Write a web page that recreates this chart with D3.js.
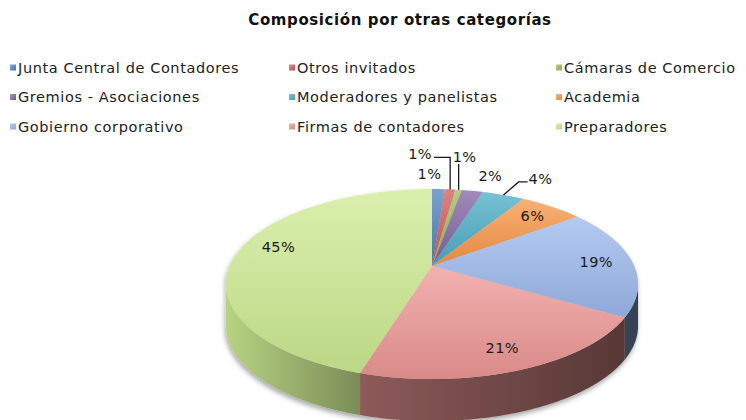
<!DOCTYPE html>
<html>
<head>
<meta charset="utf-8">
<script src="https://cdn.jsdelivr.net/npm/d3@7"></script>
<style>
  body { margin: 0; background: #fff; }
  svg { display: block; }
</style>
</head>
<body>
<div id="chart"></div>
<script>
// data (percent of participants)
const categories = [
    "Junta Central de Contadores", "Otros invitados", "Cámaras de Comercio",
    "Gremios - Asociaciones", "Moderadores y panelistas", "Academia",
    "Gobierno corporativo", "Firmas de contadores", "Preparadores"
];
const shares = [1.2, 1.0, 0.6, 2.0, 4.0, 6.0, 18.7, 21.2, 45.3];
const sliceColors = [
    "#4f81bd", "#d05a57", "#9bbb59",
    "#8064a2", "#4bacc6", "#f79646",
    "#9bb8ec", "#ed9795", "#cdeb92"
];

const width = 746, height = 420;
const fontFamily = "DejaVu Sans, Verdana, sans-serif";

// 3d look of the pie: apex, radii, perspective and depth
const cx = 432, cy = 266, kx = 202.3, ky = 91.6, persp = 0.19, depth = 42;

// small slices get their label moved outside (offset from rim point)
// leader: "up-left" = vertical then horizontal, "up" = vertical, "diag" = slanted then horizontal
const labelNudge = {
    "Junta Central de Contadores": {dx: -9, dy: -15, leader: null},
    "Otros invitados": {dx: -30, dy: -35, leader: "up-left"},
    "Cámaras de Comercio": {dx: 6, dy: -33, leader: "up"},
    "Gremios - Asociaciones": {dx: 18, dy: -15, leader: null},
    "Moderadores y panelistas": {dx: 37, dy: -16, leader: "diag"}
};

const svg = d3.select("#chart").append("svg")
    .attr("width", width)
    .attr("height", height);

const defs = svg.append("defs");

svg.append("text")
    .attr("x", 400)
    .attr("y", 25)
    .attr("text-anchor", "middle")
    .style("font-family", fontFamily)
    .style("font-size", "15px")
    .style("font-weight", "bold")
    .style("letter-spacing", "0.6px")
    .style("fill", "#111")
    .text("Composición por otras categorías");

// legend, three columns
const legendX = d3.scaleOrdinal().domain([0, 1, 2]).range([10, 289, 556]);
const legendY = d3.scaleLinear().domain([0, 1]).range([67.5, 97]);

const legend = svg.append("g").selectAll("g")
    .data(categories)
    .enter().append("g")
    .attr("transform", (d, i) => `translate(${legendX(i % 3)},${legendY(Math.floor(i / 3))})`);

categories.forEach(function (d, i) {
    const g = defs.append("linearGradient")
        .attr("id", "leg" + i)
        .attr("x1", 0).attr("y1", 0).attr("x2", 1).attr("y2", 1);
    g.append("stop").attr("offset", 0).attr("stop-color", d3.interpolateRgb(sliceColors[i], "#fff")(0.3));
    g.append("stop").attr("offset", 1).attr("stop-color", d3.color(sliceColors[i]).darker(0.3));
});

legend.append("rect")
    .attr("x", 0)
    .attr("y", -3)
    .attr("width", 6)
    .attr("height", 6)
    .style("fill", (d, i) => `url(#leg${i})`);

legend.append("text")
    .attr("x", 8)
    .attr("y", 0)
    .attr("dy", "0.35em")
    .style("font-family", fontFamily)
    .style("font-size", "14.5px")
    .style("letter-spacing", "0.6px")
    .style("fill", "#222")
    .text(d => d);

// pie geometry
const pie = d3.pie().sort(null).value(d => d)
    .startAngle(0).endAngle(2 * Math.PI);
const arcs = pie(shares);
const total = d3.sum(shares);

function project(phi, r) {
    const u = r * Math.sin(phi), v = r * Math.cos(phi);
    const d = 1 + persp * v;
    return [cx + kx * u / d, cy - ky * v / d];
}

function rimPoints(a0, a1, r, shift) {
    const n = Math.max(2, Math.ceil((a1 - a0) / 0.01));
    return d3.range(n + 1).map(function (k) {
        const p = project(a0 + (a1 - a0) * k / n, r);
        return [p[0], p[1] + shift];
    });
}

const line = d3.line();

// shadow under the pie
const shadow = defs.append("filter").attr("id", "pieShadow")
    .attr("x", "-10%").attr("y", "-10%").attr("width", "120%").attr("height", "130%");
shadow.append("feDropShadow")
    .attr("dx", -1).attr("dy", 3)
    .attr("stdDeviation", 2.5)
    .attr("flood-color", "#000")
    .attr("flood-opacity", 0.35);

const pieG = svg.append("g").attr("filter", "url(#pieShadow)");

// gradients: top faces light at top, sides darker to the right
arcs.forEach(function (a, i) {
    const base = sliceColors[i];
    const top = defs.append("linearGradient")
        .attr("id", "top" + i)
        .attr("x1", 0).attr("y1", 0).attr("x2", 0).attr("y2", 1);
    top.append("stop").attr("offset", 0).attr("stop-color", d3.interpolateRgb(base, "#fff")(0.25));
    top.append("stop").attr("offset", 1).attr("stop-color", d3.color(base).darker(0.25));

    const side = defs.append("linearGradient")
        .attr("id", "side" + i)
        .attr("gradientUnits", "userSpaceOnUse")
        .attr("x1", cx - kx * 1.02).attr("y1", 0)
        .attr("x2", cx + kx * 1.02).attr("y2", 0);
    side.append("stop").attr("offset", 0).attr("stop-color", d3.color(base).darker(0.3));
    side.append("stop").attr("offset", 0.33).attr("stop-color", d3.color(base).darker(1.45));
    side.append("stop").attr("offset", 1).attr("stop-color", d3.color(base).darker(2.9));
});

// outer wall, only the part that faces the viewer
const wallFrom = Math.acos(-persp), wallTo = 2 * Math.PI - Math.acos(-persp);

arcs.forEach(function (a, i) {
    const a0 = Math.max(a.startAngle, wallFrom), a1 = Math.min(a.endAngle, wallTo);
    if (a1 <= a0) return;
    const upper = rimPoints(a0, a1, 1, 0);
    const lower = rimPoints(a0, a1, 1, depth).reverse();
    pieG.append("path")
        .attr("d", line(upper.concat(lower)) + "Z")
        .style("fill", `url(#side${i})`);
});

// top faces
pieG.selectAll(".slice")
    .data(arcs)
    .enter().append("path")
    .attr("class", "slice")
    .attr("d", a => line([project(0, 0)].concat(rimPoints(a.startAngle, a.endAngle, 1, 0))) + "Z")
    .style("fill", (a, i) => `url(#top${i})`);

// labels
const labelG = svg.append("g")
    .style("font-family", fontFamily)
    .style("font-size", "14.5px")
    .style("letter-spacing", "0.4px")
    .style("fill", "#1a1a1a");

arcs.forEach(function (a, i) {
    const mid = (a.startAngle + a.endAngle) / 2;
    const txt = Math.round(a.value / total * 100) + "%";
    const nudge = labelNudge[categories[i]];
    const rim = project(mid, 1);
    // big slices: label slightly further out, and the widest one a bit higher
    const pos = nudge ? [rim[0] + nudge.dx, rim[1] + nudge.dy] : project(mid + (a.value > 40 ? 0.12 : 0), 0.82);

    const label = labelG.append("text")
        .attr("x", pos[0])
        .attr("y", pos[1])
        .attr("dy", "0.35em")
        .attr("text-anchor", "middle")
        .text(txt);

    if (nudge && nudge.leader) {
        const box = label.node().getBBox();
        let pts;
        if (nudge.leader === "up-left") {
            const y = pos[1] + 3;
            pts = [[rim[0], rim[1]], [rim[0], y], [box.x + box.width + 2, y]];
        } else if (nudge.leader === "up") {
            pts = [[rim[0], rim[1]], [rim[0], box.y + box.height - 1]];
        } else {
            const y = pos[1] + 3;
            pts = [[rim[0], rim[1]], [box.x - 10, y], [box.x - 1, y]];
        }
        labelG.append("path")
            .attr("d", line(pts))
            .style("fill", "none")
            .style("stroke", "#1a1a1a")
            .style("stroke-width", 1.3);
    }
});
</script>
</body>
</html>
